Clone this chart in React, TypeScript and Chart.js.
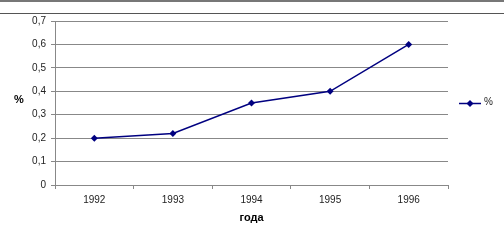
import React, { useEffect, useRef } from "react";
import { Chart, registerables } from "chart.js";

Chart.register(...registerables);

const categories = ["1992", "1993", "1994", "1995", "1996"];
const values = [0.2, 0.22, 0.35, 0.4, 0.6];
const seriesLabel = "%";
const xTitle = "года";
const yTitle = "%";
const yMin = 0;
const yMax = 0.7;
const yStep = 0.1;

const FONT = "'Liberation Sans', Arial, sans-serif";
const NAVY = "#000080";

const extrasPlugin = {
  id: "extras",
  afterDraw(chart: any) {
    const { ctx, chartArea } = chart;
    const midY = (chartArea.top + chartArea.bottom) / 2;
    ctx.save();
    // y title (horizontal)
    ctx.fillStyle = "#000";
    ctx.font = `bold 11px ${FONT}`;
    ctx.textAlign = "center";
    ctx.textBaseline = "middle";
    ctx.fillText(yTitle, 19, midY - 3);
    // legend
    const lx = chartArea.right + 11;
    const ly = midY + 0.5;
    ctx.strokeStyle = NAVY;
    ctx.lineWidth = 1.5;
    ctx.beginPath();
    ctx.moveTo(lx, ly);
    ctx.lineTo(lx + 22, ly);
    ctx.stroke();
    ctx.fillStyle = NAVY;
    ctx.beginPath();
    const cx = lx + 11;
    const r = 3.5;
    ctx.moveTo(cx, ly - r);
    ctx.lineTo(cx + r, ly);
    ctx.lineTo(cx, ly + r);
    ctx.lineTo(cx - r, ly);
    ctx.closePath();
    ctx.fill();
    ctx.fillStyle = "#222";
    ctx.font = `10px ${FONT}`;
    ctx.textAlign = "left";
    ctx.fillText(chart.data.datasets[0].label, lx + 25, ly - 1);
    ctx.restore();
  },
};

export default function App() {
  const ref = useRef<HTMLCanvasElement | null>(null);
  useEffect(() => {
    if (!ref.current) return;
    const chart = new Chart(ref.current, {
      type: "line",
      data: {
        labels: categories,
        datasets: [
          {
            label: seriesLabel,
            data: values,
            borderColor: NAVY,
            backgroundColor: NAVY,
            borderWidth: 1.5,
            pointStyle: "rectRot",
            pointRadius: 3.5,
            pointBackgroundColor: NAVY,
            pointBorderColor: NAVY,
            pointBorderWidth: 0,
            tension: 0,
          },
        ],
      },
      options: {
        responsive: false,
        animation: false,
        layout: { padding: { top: 21, right: 56, left: 0, bottom: 0 } },
        plugins: {
          legend: { display: false },
          tooltip: { enabled: false },
        },
        scales: {
          x: {
            type: "category",
            offset: true,
            grid: {
              offset: true,
              drawOnChartArea: false,
              drawTicks: true,
              tickLength: 4,
              color: "#888",
            },
            border: { color: "#888", width: 1 },
            ticks: {
              color: "#222",
              font: { family: FONT, size: 10 },
              padding: 5,
              maxRotation: 0,
            },
            title: {
              display: true,
              text: xTitle,
              color: "#000",
              font: { family: FONT, size: 11, weight: "bold" },
              padding: { top: 4, bottom: 15 },
            },
            afterFit(scale: any) {
              scale.height = 55;
            },
          },
          y: {
            min: yMin,
            max: yMax,
            ticks: {
              stepSize: yStep,
              color: "#222",
              font: { family: FONT, size: 10 },
              padding: 5,
              callback: (v: any) =>
                Number(v) === 0 ? "0" : Number(v).toFixed(1).replace(".", ","),
            },
            grid: {
              color: "#888",
              tickLength: 4,
              drawTicks: true,
            },
            border: { color: "#888", width: 1 },
            afterFit(scale: any) {
              scale.width = 55;
            },
          },
        },
      },
      plugins: [extrasPlugin],
    });
    return () => chart.destroy();
  }, []);

  return (
    <div
      style={{
        position: "fixed",
        left: 0,
        top: 0,
        width: 504,
        height: 240,
        background: "#fff",
        overflow: "hidden",
      }}
    >
      <div style={{ position: "absolute", left: 0, top: 0, width: 504, height: 2, background: "#777" }} />
      <div style={{ position: "absolute", left: 0, top: 13, width: 504, height: 1, background: "#555" }} />
      <canvas ref={ref} width={504} height={240} style={{ display: "block" }} />
    </div>
  );
}
